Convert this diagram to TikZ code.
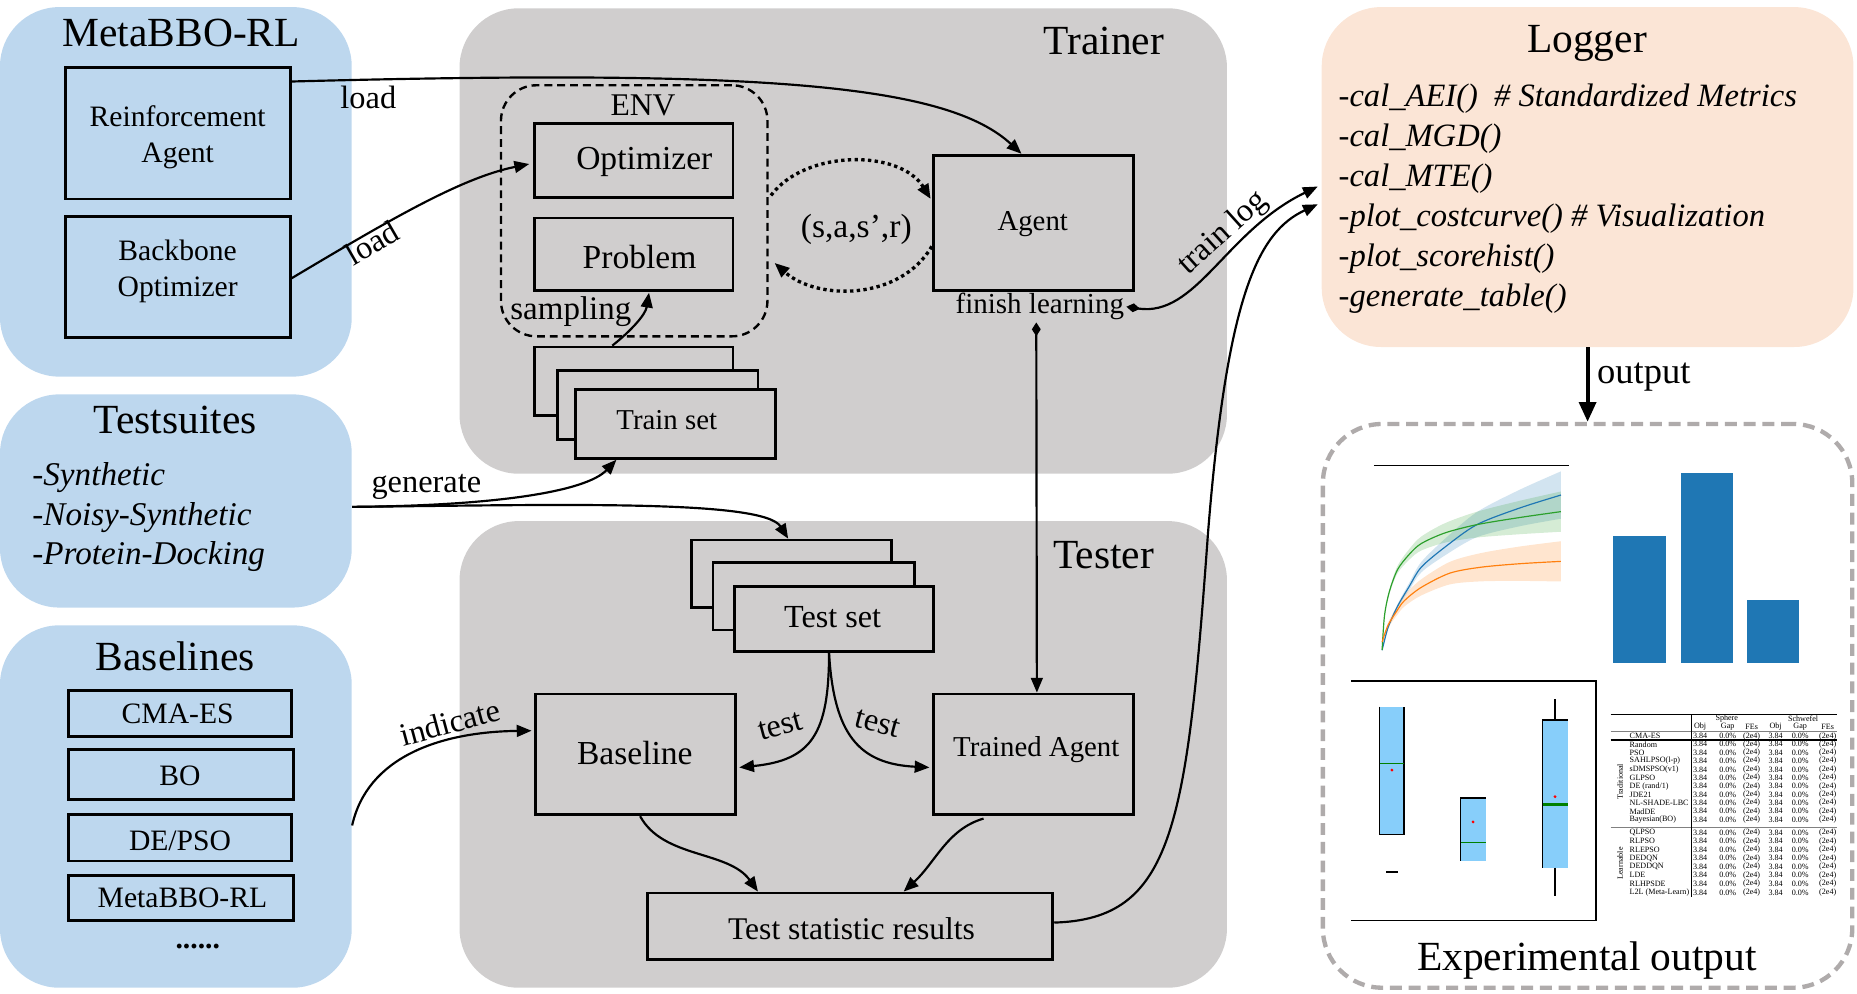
\documentclass[tikz,border=0pt]{standalone}
\usepackage{fontspec}
\setmainfont{Liberation Serif}[ItalicFont={Liberation Serif Italic},BoldFont={Liberation Serif Bold}]
\usetikzlibrary{arrows.meta,fit,calc}
\definecolor{bluep}{HTML}{BDD7EE}
\definecolor{grayp}{HTML}{D0CECE}
\definecolor{peach}{HTML}{FBE5D6}
\definecolor{dashg}{HTML}{AFABAB}
\definecolor{mplblue}{HTML}{1F77B4}
\definecolor{mplorange}{HTML}{FF7F0E}
\definecolor{mplgreen}{HTML}{2CA02C}
\definecolor{skyb}{HTML}{87CEFA}
\definecolor{medgreen}{HTML}{008000}
\newcommand\fsz[2]{\fontsize{#1}{#2}\selectfont}
\begin{document}
\begin{tikzpicture}[x=0.6pt, y=-0.6pt,
  box/.style={draw, line width=1.4pt, inner sep=0pt},
  txt/.style={inner sep=0pt, align=center},
  panel/.style={inner sep=0pt, rounded corners=30pt},
  title/.style={inner sep=0pt, font=\fsz{21}{25}},
  lbl/.style={inner sep=1pt, font=\fsz{16.4}{19}},
  item/.style={inner sep=0pt, anchor=west, font=\fsz{16.8}{20}\itshape},
  logitem/.style={inner sep=0pt, anchor=west, font=\fsz{16.5}{20}\itshape},
  myarr/.tip={Triangle[length=7.5pt,width=6pt]},
  mydia/.tip={Diamond[length=7pt,width=4.5pt]},
  conn/.style={line width=1.1pt, -myarr},
  dotconn/.style={line width=1.7pt, dash pattern=on 1.7pt off 1.7pt, -myarr},
  cell/.style={inner sep=0pt, font=\fsz{4.1}{5}},
  thin/.style={line width=0.6pt}
]
\useasboundingbox (0,0) rectangle (1568,839.3);

% ---------- panels ----------
\node[panel, fill=bluep, fit={(0,6)(297,318)}] (pmeta) {};
\node[panel, fill=bluep, fit={(0,333)(297,513)}] (ptest) {};
\node[panel, fill=bluep, fit={(0,528)(297,834)}] (pbase) {};
\node[panel, fill=grayp, fit={(388,7)(1036,400)}] (ptrain) {};
\node[panel, fill=grayp, fit={(388,440)(1036,834)}] (ptester) {};
\node[panel, fill=peach, fit={(1116,6)(1565,293)}] (plog) {};
\node[panel, draw=dashg, line width=2.2pt, dash pattern=on 6pt off 3.5pt, fit={(1117,358)(1564,834)}] (pexp) {};

% ---------- titles ----------
\node[title] (tmeta) at (153,28) {MetaBBO-RL};
\node[title] (ttest) at (148,355) {Testsuites};
\node[title] (tbase) at (148,554) {Baselines};
\node[title] (ttrain) at (932,35) {Trainer};
\node[title] (ttester) at (932,469) {Tester};
\node[title] (tlog) at (1340,37) {Logger};
\node[title] (texp) at (1340,811) {Experimental output};

% ---------- MetaBBO-RL ----------
\node[box, fit={(55,57)(245,168)}] (ra) {};
\node[txt, font=\fsz{15}{18}] (raT) at (150,116) {Reinforcement\\Agent};
\node[box, fit={(55,183)(245,285)}] (bo) {};
\node[txt, font=\fsz{15}{18}] (boT) at (150,229) {Backbone\\Optimizer};

% ---------- Testsuites ----------
\node[item] (s1) at (27,403) {-Synthetic};
\node[item] (s2) at (27,437) {-Noisy-Synthetic};
\node[item] (s3) at (27,470) {-Protein-Docking};

% ---------- Baselines ----------
\node[box, fit={(58,583)(246,622)}] (b1) {};
\node[txt, font=\fsz{15}{18}] (b1T) at (150,603) {CMA-ES};
\node[box, fit={(58,633)(248,675)}] (b2) {};
\node[txt, font=\fsz{15}{18}] (b2T) at (152,655) {BO};
\node[box, fit={(58,688)(246,727)}] (b3) {};
\node[txt, font=\fsz{15}{18}] (b3T) at (152,710) {DE/PSO};
\node[box, fit={(58,739)(248,777)}] (b4) {};
\node[txt, font=\fsz{15}{18}] (b4T) at (154,758) {MetaBBO-RL};
\node[inner sep=0pt, font=\fsz{15}{18}\bfseries] (bdots) at (167,799) {......};

% ---------- Trainer ----------
\node[draw, line width=1.2pt, dash pattern=on 4pt off 2.5pt, rounded corners=18pt, inner sep=0pt, fit={(423,72)(648,284)}] (env) {};
\node[txt, font=\fsz{16}{19}] (envl) at (543,89) {ENV};
\node[box, fit={(451,104)(619,167)}] (opt) {};
\node[txt, font=\fsz{17}{20}] (optT) at (544,137) {Optimizer};
\node[box, fit={(451,184)(619,245)}] (prob) {};
\node[txt, font=\fsz{17}{20}] (probT) at (540,217) {Problem};
\node[txt, font=\fsz{16.7}{20}] (samp) at (482,263) {sampling};
\node[box, fill=grayp, fit={(451,293)(619,351)}] (tr3) {};
\node[box, fill=grayp, fit={(471,313)(640,371)}] (tr2) {};
\node[box, fill=grayp, fit={(486,329)(655,387)}] (tr1) {};
\node[txt, font=\fsz{14.6}{18}] (tr1T) at (563,355) {Train set};
\node[box, fit={(788,131)(957,245)}] (agent) {};
\node[txt, font=\fsz{14.6}{18}] (agentT) at (872,189) {Agent};
\node[inner sep=1pt, font=\fsz{14.7}{18}] (fl) at (878,259) {finish learning};
\node[txt, font=\fsz{17}{20}] (sasr) at (723,194) {(s,a,s’,r)};

% ---------- Tester ----------
\node[box, fill=grayp, fit={(584,456)(753,513)}] (ts3) {};
\node[box, fill=grayp, fit={(602,475)(772,532)}] (ts2) {};
\node[box, fill=grayp, fit={(620,495)(788,550)}] (ts1) {};
\node[txt, font=\fsz{16.3}{19}] (ts1T) at (703,521) {Test set};
\node[box, fit={(452,586)(621,688)}] (bl) {};
\node[txt, font=\fsz{17}{20}] (blT) at (536,636) {Baseline};
\node[box, fit={(788,586)(957,688)}] (ta) {};
\node[txt, font=\fsz{14.6}{18}] (taT) at (875,633) {Trained Agent};
\node[box, fit={(547,754)(889,810)}] (tsr) {};
\node[txt, font=\fsz{16}{19}] (tsrT) at (719,784) {Test statistic results};

% ---------- Logger ----------
\node[logitem] (l1) at (1130,83) {-cal\_AEI()\ \ \# Standardized Metrics};
\node[logitem] (l2) at (1130,117) {-cal\_MGD()};
\node[logitem] (l3) at (1130,151) {-cal\_MTE()};
\node[logitem] (l4) at (1130,185) {-plot\_costcurve() \# Visualization};
\node[logitem] (l5) at (1130,218) {-plot\_scorehist()};
\node[logitem] (l6) at (1130,252) {-generate\_table()};

% ---------- connectors ----------
\draw[conn] ($(ra.north east)+(0,13)$) .. controls (650,58) and (800,72) .. ($(agent.north)+(-10,0)$);
\node[lbl] (lb1) at (311,82) {load};
\draw[conn] ($(bo.east)+(0,1)$) .. controls (330,185) and (390,150) .. ($(opt.west)+(-3,3)$);
\node[lbl, rotate=30] (lb2) at (314,205) {load};
\draw[dotconn] ($(env.east)+(2,-13)$) .. controls (680,126) and (760,126) .. ($(agent.west)+(-1,-20)$);
\draw[dotconn] ($(agent.west)+(0,20)$) .. controls (760,254) and (690,254) .. ($(env.east)+(5,44)$);
\draw[conn] ($(tr3.north)+(-18,0)$) .. controls (532,280) and (545,266) .. ($(prob.south)+(13,1)$);
\draw[line width=1.1pt, mydia-myarr] (fl.east) .. controls (1010,268) and (1035,195) .. ($(plog.west)+(-3,8)$);
\node[lbl, rotate=42] (lb3) at (1033,197) {train log};
\draw[line width=1.1pt, mydia-myarr] ($(fl.south)+(-3,0)$) -- ($(ta.north)+(3,0)$);
\draw[conn] ($(ptest.east)+(0,5)$) .. controls (420,427) and (495,415) .. ($(tr1.south)+(-50,0)$);
\node[lbl] (lb4) at (360,411) {generate};
\draw[conn] ($(ptest.east)+(0,5)$) .. controls (480,426) and (645,422) .. ($(ts3.north)+(-3,0)$);
\draw[conn] ($(pbase.east)+(0,16)$) .. controls (310,640) and (370,618) .. ($(bl.west)+(-2,-20)$);
\node[lbl, rotate=15] (lb5) at (380,610) {indicate};
\draw[conn] ($(ts1.south)+(-4,0)$) .. controls (700,620) and (685,642) .. ($(bl.east)+(2,11)$);
\draw[conn] ($(ts1.south)+(-4,0)$) .. controls (704,620) and (725,645) .. ($(ta.west)+(-2,11)$);
\node[lbl, rotate=15] (lb6) at (659,613) {test};
\node[lbl, rotate=-15] (lb7) at (741,611) {test};
\draw[conn] ($(bl.south)+(4,0)$) .. controls (560,725) and (615,718) .. ($(tsr.north)+(-78,0)$);
\draw[conn] ($(ta.south)+(-42,2)$) .. controls (800,700) and (790,728) .. ($(tsr.north)+(45,0)$);
\draw[conn] ($(tsr.east)+(0,-3)$) .. controls (990,776) and (1002,700) .. (1020,450) .. controls (1036,250) and (1062,196) .. ($(plog.west)+(-3,23)$);
\draw[line width=2pt, -{Triangle[length=10pt,width=8.5pt]}] (plog.south) -- (pexp.north);
\node[inner sep=1pt, font=\fsz{18.5}{22}] (lb8) at (1388,318) {output};

% ---------- line chart ----------
\draw[thin] (1160,393) -- (1325,393);
\fill[mplblue, opacity=0.2] plot[smooth] coordinates {(1167,549) (1172,529.3) (1180,510.3) (1190,492) (1200,474.6) (1220,455) (1247,432.4) (1283,413.6) (1318,398)} -- plot[smooth] coordinates {(1318,438) (1283,444.4) (1247,453.6) (1220,469) (1200,483.4) (1190,498) (1180,513.7) (1172,530.7) (1167,549)} -- cycle;
\fill[mplgreen, opacity=0.2] plot[smooth] coordinates {(1167,549) (1169,519.2) (1173,498.2) (1180,477.9) (1190,463.5) (1200,453.1) (1220,441.8) (1247,432.1) (1283,422.9) (1318,415)} -- plot[smooth] coordinates {(1318,449) (1283,451.1) (1247,453.9) (1220,458.2) (1200,464.9) (1190,472.5) (1180,484.1) (1173,501.8) (1169,520.8) (1167,549)} -- cycle;
\fill[mplorange, opacity=0.2] plot[smooth] coordinates {(1167,542) (1172,525.8) (1180,511.1) (1186,502.1) (1200,489.2) (1224,474.5) (1250,467.1) (1283,461.5) (1318,457)} -- plot[smooth] coordinates {(1318,491) (1283,490.5) (1250,490.9) (1224,493.5) (1200,502.8) (1186,511.9) (1180,518.9) (1172,530.2) (1167,542)} -- cycle;
\draw[mplblue, line width=0.6pt] plot[smooth] coordinates {(1167,549) (1172,530) (1180,512) (1190,495) (1200,479) (1220,462) (1247,443) (1283,429) (1318,418)};
\draw[mplgreen, line width=0.6pt] plot[smooth] coordinates {(1167,549) (1169,520) (1173,500) (1180,481) (1190,468) (1200,459) (1220,450) (1247,443) (1283,437) (1318,432)};
\draw[mplorange, line width=0.6pt] plot[smooth] coordinates {(1167,542) (1172,528) (1180,515) (1186,507) (1200,496) (1224,484) (1250,479) (1283,476) (1318,474)};

% ---------- bar chart ----------
\fill[mplblue] (1362,452.6) rectangle (1407,559.5);
\fill[mplblue] (1419,399) rectangle (1463,559.5);
\fill[mplblue] (1475,506.6) rectangle (1519,559.5);

% ---------- box plot ----------
\draw[thin] (1141,575) -- (1347.6,575) -- (1347.6,777) -- (1141,777);
\fill[skyb] (1165,596.7) rectangle (1185.5,704.5);
\draw[thin] (1165,596.7) -- (1165,704.5) -- (1185.5,704.5) -- (1185.5,596.7);
\draw[medgreen, line width=0.5pt] (1165,644.5) -- (1185.5,644.5);
\fill[red] (1175.3,650.2) circle (1.3);
\draw[thin] (1170.4,736.3) -- (1180.3,736.3);
\fill[skyb] (1233.5,673.8) rectangle (1254.7,726.7);
\draw[thin] (1233.5,726.7) -- (1233.5,673.8) -- (1254.7,673.8);
\draw[medgreen, line width=0.5pt] (1233.5,711.3) -- (1254.7,711.3);
\fill[red] (1243.8,694) circle (1.3);
\fill[skyb] (1302.6,608) rectangle (1323.8,732.6);
\draw[thin] (1302.6,732.6) -- (1302.6,608) -- (1323.8,608);
\draw[thin] (1313,590.5) -- (1313,608);
\draw[thin] (1313,732.6) -- (1313,756.3);
\draw[medgreen, line width=1.2pt] (1302.6,679.4) -- (1323.8,679.4);
\fill[red] (1313,672.7) circle (1.3);

% ---------- table ----------
\draw[line width=0.4pt] (1360,603) -- (1551,603);
\draw[line width=0.3pt, gray] (1360,617.3) -- (1551,617.3);
\draw[line width=0.6pt] (1360,624.8) -- (1551,624.8);
\draw[line width=0.3pt, gray] (1360,698.9) -- (1551,698.9);
\draw[line width=0.5pt] (1428.4,603) -- (1428.4,757);
\node[cell] (hsph) at (1458,607) {Sphere};
\node[cell] (hsch) at (1522.5,607) {Schwefel};
\foreach \cx/\ct [count=\k] in {1435.5/Obj, 1458.8/Gap, 1479/FEs, 1499.3/Obj, 1520/Gap, 1543.3/FEs}
  \node[cell] (hc\k) at (\cx,613.6) {\ct};
\node[cell, rotate=90] (gtrad) at (1368,660) {Traditional};
\node[cell, rotate=90] (glearn) at (1368,729) {Learnable};
\foreach \nm/\ry [count=\k] in {CMA-ES/621.5, Random/628.5, PSO/635.6, SAHLPSO(l-p)/642.6, sDMSPSO(v1)/649.7, GLPSO/656.8, {DE (rand/1)}/663.8, JDE21/670.9, NL-SHADE-LBC/677.9, MadDE/685, Bayesian(BO)/692, QLPSO/703.1, RLPSO/710.3, RLEPSO/717.5, DEDQN/724.7, DEDDQN/731.9, LDE/739.1, RLHPSDE/746.3, {L2L (Meta-Learn)}/753.5} {
  \node[cell, anchor=west] (rn\k) at (1375.7,\ry) {\nm};
  \node[cell] (ra\k) at (1435.5,\ry) {3.84};
  \node[cell] (rb\k) at (1458.8,\ry) {0.0\%};
  \node[cell] (rc\k) at (1479,\ry) {(2e4)};
  \node[cell] (rd\k) at (1499.3,\ry) {3.84};
  \node[cell] (re\k) at (1520,\ry) {0.0\%};
  \node[cell] (rf\k) at (1543.3,\ry) {(2e4)};
}
\end{tikzpicture}
\end{document}
